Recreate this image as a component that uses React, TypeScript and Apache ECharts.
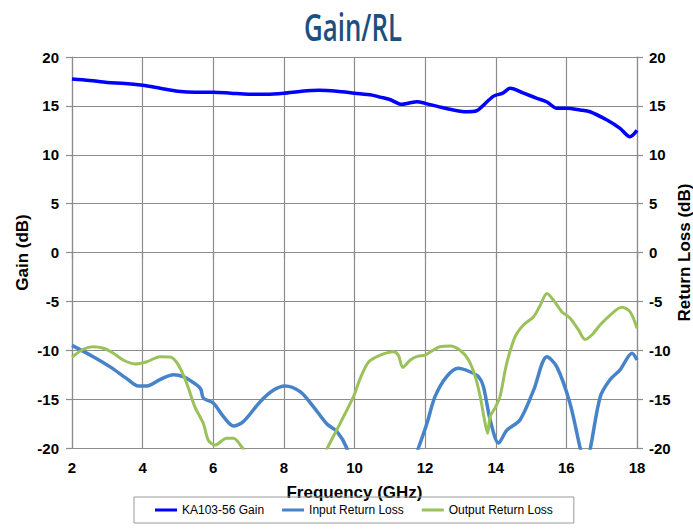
import React, { useEffect, useRef } from "react";
import * as echarts from "echarts";

const xTicks = [2, 4, 6, 8, 10, 12, 14, 16, 18];
const yTicks = [-20, -15, -10, -5, 0, 5, 10, 15, 20];

const gainFreq = [2, 2.5, 3, 3.5, 4, 4.5, 5, 5.5, 6, 6.5, 7, 7.5, 8, 8.5, 9, 9.5, 10, 10.5, 10.72, 11.0, 11.34, 11.55, 11.77, 12.0, 12.4, 12.8, 13.18, 13.46, 13.6, 13.94, 14.2, 14.41, 14.79, 15.17, 15.45, 15.73, 16.01, 16.39, 16.67, 17.15, 17.52, 17.8, 18];
const gainDb = [17.75, 17.6, 17.4, 17.3, 17.1, 16.8, 16.5, 16.4, 16.4, 16.3, 16.2, 16.2, 16.3, 16.5, 16.6, 16.5, 16.3, 16.1, 15.9, 15.65, 15.16, 15.3, 15.43, 15.26, 14.9, 14.58, 14.4, 14.5, 14.9, 16.0, 16.3, 16.8, 16.3, 15.77, 15.4, 14.75, 14.75, 14.58, 14.4, 13.55, 12.7, 11.85, 12.5];

const inFreq = [2, 2.6, 3.08, 3.55, 3.88, 4.12, 4.49, 4.87, 5.15, 5.53, 5.65, 5.72, 6.0, 6.29, 6.57, 6.85, 7.33, 7.7, 8.03, 8.46, 8.84, 9.22, 9.5, 9.78, 10.0, 10.5, 11.0, 11.5, 11.81, 12.05, 12.28, 12.61, 12.94, 13.27, 13.51, 13.65, 13.84, 14.08, 14.31, 14.69, 15.07, 15.45, 15.73, 16.1, 16.39, 16.53, 16.68, 16.96, 17.24, 17.52, 17.86, 18];
const inDb = [-9.5, -10.66, -11.7, -12.9, -13.66, -13.66, -13.0, -12.5, -12.7, -13.55, -14.0, -14.9, -15.4, -16.8, -17.75, -17.3, -15.26, -14.1, -13.66, -14.24, -15.8, -17.55, -18.3, -20, -23, -26, -26, -23, -20, -17.5, -14.75, -12.7, -11.85, -12.2, -12.7, -13.7, -17.1, -19.5, -18.2, -17.1, -14.1, -10.66, -11.7, -15.4, -20, -22, -20, -14.75, -13.0, -12.0, -10.3, -11.0];

const outFreq = [2, 2.32, 2.6, 2.89, 3.17, 3.45, 3.78, 4.12, 4.49, 4.78, 5.01, 5.25, 5.48, 5.72, 5.86, 6.05, 6.38, 6.57, 6.81, 7.0, 7.5, 8.0, 8.5, 9.0, 9.22, 9.59, 9.97, 10.16, 10.4, 10.73, 11.1, 11.24, 11.37, 11.58, 11.8, 12.0, 12.42, 12.71, 12.99, 13.23, 13.42, 13.56, 13.7, 13.77, 13.84, 13.98, 14.12, 14.27, 14.36, 14.55, 14.79, 15.07, 15.26, 15.45, 15.64, 15.87, 16.1, 16.34, 16.53, 16.72, 16.96, 17.24, 17.57, 17.8, 18];
const outDb = [-10.7, -9.9, -9.64, -9.8, -10.3, -11.0, -11.4, -11.17, -10.66, -10.7, -11.5, -13.4, -15.8, -17.5, -19.2, -19.7, -19.0, -19.0, -19.9, -21, -24, -26, -25, -22, -20.1, -17.5, -14.75, -12.9, -11.2, -10.5, -10.15, -10.5, -11.75, -11.0, -10.6, -10.5, -9.64, -9.57, -10.0, -11.0, -12.7, -14.75, -17.5, -18.5, -16.8, -15.9, -14.75, -12.0, -10.66, -8.6, -7.4, -6.57, -5.4, -4.2, -4.9, -6.06, -6.7, -7.9, -8.9, -8.44, -7.4, -6.4, -5.6, -6.06, -7.75];

const seriesNames = ["KA103-56 Gain", "Input Return Loss", "Output Return Loss"];
const seriesColors = ["#0000ff", "#4783c9", "#9bc25a"];

const pairs = (xs: number[], ys: number[]) => xs.map((x, i) => [x, ys[i]]);

export default function App() {
  const ref = useRef<HTMLDivElement>(null);
  useEffect(() => {
    if (!ref.current) return;
    const chart = echarts.init(ref.current, undefined, { renderer: "svg" });
    const ff = '"Liberation Sans", Arial, sans-serif';
    const axisLabel = { fontFamily: ff, fontWeight: "bold" as const, fontSize: 15, color: "#000" };
    const nameStyle = { fontFamily: ff, fontWeight: "bold" as const, fontSize: 17, color: "#000" };
    const gridLine = { show: true, lineStyle: { color: "#8c8c8c", width: 1.2 } };
    const axisLine = { show: true, lineStyle: { color: "#8c8c8c", width: 1.2 } };
    const tick = { show: true, length: 6, lineStyle: { color: "#8c8c8c", width: 1.2 } };
    chart.setOption({
      animation: false,
      backgroundColor: "#fff",
      graphic: [
        {
          type: "text",
          x: 353,
          y: 26,
          scaleX: 0.68,
          style: {
            text: "Gain/RL",
            font: '600 38px "Open Sans", "Noto Sans", sans-serif',
            fill: "#1d4f7c",
            textAlign: "center",
            textVerticalAlign: "middle",
          },
        },
      ],
      grid: { left: 72, right: 56, top: 57, bottom: 81, containLabel: false, outerBoundsMode: "none" },
      legend: {
        data: seriesNames,
        left: 134,
        top: 497,
        padding: [7, 21],
        itemGap: 18,
        itemWidth: 22,
        itemHeight: 3,
        icon: "rect",
        borderColor: "#9a9a9a",
        borderWidth: 1,
        textStyle: { fontFamily: ff, fontSize: 12, color: "#000" },
      },
      xAxis: {
        type: "value",
        min: xTicks[0],
        max: xTicks[xTicks.length - 1],
        interval: 2,
        name: "Frequency (GHz)",
        nameLocation: "middle",
        nameGap: 36,
        nameMoveOverlap: false,
        nameTextStyle: nameStyle,
        axisLine,
        axisTick: tick,
        axisLabel: { ...axisLabel, margin: 12 },
        splitLine: gridLine,
      },
      yAxis: [
        {
          type: "value",
          min: yTicks[0],
          max: yTicks[yTicks.length - 1],
          interval: 5,
          name: "Gain (dB)",
          nameLocation: "middle",
          nameGap: 41,
          nameMoveOverlap: false,
          nameTextStyle: nameStyle,
          axisLine,
          axisTick: tick,
          axisLabel: { ...axisLabel, margin: 13 },
          splitLine: gridLine,
        },
        {
          type: "value",
          position: "right",
          min: yTicks[0],
          max: yTicks[yTicks.length - 1],
          interval: 5,
          name: "Return Loss (dB)",
          nameLocation: "middle",
          nameGap: 39,
          nameRotate: 90,
          nameMoveOverlap: false,
          nameTextStyle: nameStyle,
          axisLine,
          axisTick: tick,
          axisLabel: { ...axisLabel, margin: 12 },
          splitLine: { show: false },
        },
      ],
      series: [
        {
          name: seriesNames[0],
          type: "line",
          yAxisIndex: 0,
          data: pairs(gainFreq, gainDb),
          showSymbol: false,
          smooth: 0.3,
          clip: true,
          lineStyle: { color: seriesColors[0], width: 3.5 },
          itemStyle: { color: seriesColors[0] },
        },
        {
          name: seriesNames[1],
          type: "line",
          yAxisIndex: 1,
          data: pairs(inFreq, inDb),
          showSymbol: false,
          smooth: 0.3,
          clip: true,
          lineStyle: { color: seriesColors[1], width: 3.5 },
          itemStyle: { color: seriesColors[1] },
        },
        {
          name: seriesNames[2],
          type: "line",
          yAxisIndex: 1,
          data: pairs(outFreq, outDb),
          showSymbol: false,
          smooth: 0.3,
          clip: true,
          lineStyle: { color: seriesColors[2], width: 3 },
          itemStyle: { color: seriesColors[2] },
        },
      ],
    });
    return () => chart.dispose();
  }, []);
  return <div ref={ref} style={{ width: 693, height: 529, position: "absolute", left: 0, top: 0 }} />;
}
